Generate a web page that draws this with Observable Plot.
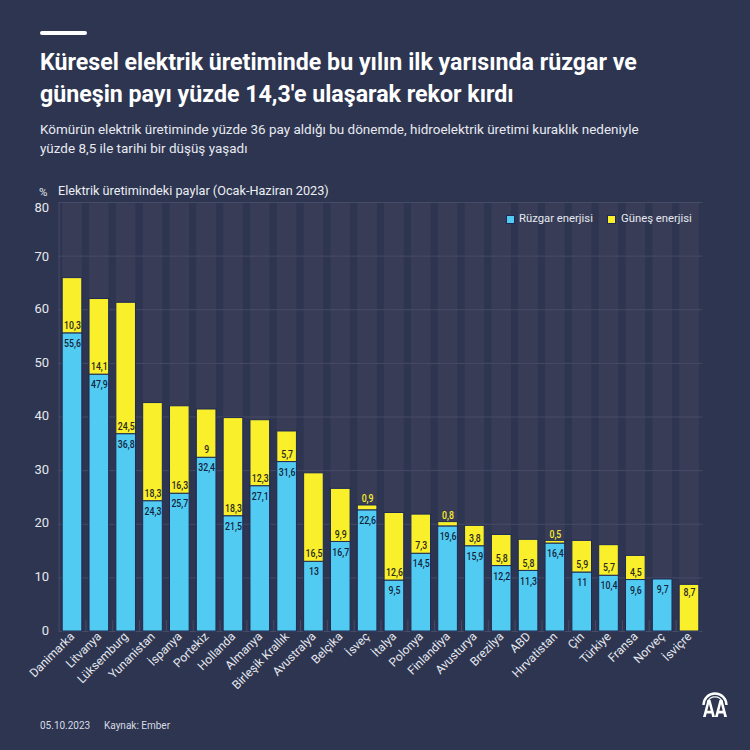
<!DOCTYPE html>
<html lang="tr">
<head>
<meta charset="utf-8">
<script src="https://cdn.jsdelivr.net/npm/d3@7"></script>
<script src="https://cdn.jsdelivr.net/npm/@observablehq/plot@0.6"></script>
<style>
html,body{margin:0;padding:0;background:#2d3550;width:750px;height:750px;overflow:hidden;font-family:Roboto,sans-serif;color:#fff}
#page{position:relative;width:750px;height:750px}
.abs{position:absolute;white-space:nowrap}
#rule{left:40px;top:30.5px;width:47px;height:4px;border-radius:2px;background:#fff}
#title{left:40px;top:47px;font-size:23.2px;font-weight:700;line-height:31.5px;color:#fff}
#subtitle{left:40px;top:121px;font-size:13.47px;line-height:18.5px;color:#e8eaf0}
#chart{left:0;top:190px}
#chart svg{display:block;background:transparent}
.lg{font-size:11.3px;color:#e6e8ef;line-height:14px}
.sw{width:7px;height:7px;border:1px solid #1e2a55}
.foot{font-size:10px;color:#d8dbe4;top:720px;line-height:12px}
</style>
</head>
<body>
<div id="page">
  <div class="abs" id="rule"></div>
  <div class="abs" id="title">Küresel elektrik üretiminde bu yılın ilk yarısında rüzgar ve<br>güneşin payı yüzde 14,3'e ulaşarak rekor kırdı</div>
  <div class="abs" id="subtitle">Kömürün elektrik üretiminde yüzde 36 pay aldığı bu dönemde, hidroelektrik üretimi kuraklık nedeniyle<br>yüzde 8,5 ile tarihi bir düşüş yaşadı</div>
  <div class="abs" id="chart"></div>
  <div class="abs" style="left:39px;top:185px;font-size:11.5px;line-height:14px;color:#e6e8ef">%</div>
  <div class="abs" style="left:58px;top:183px;font-size:12.7px;line-height:15px;color:#eceef3">Elektrik üretimindeki paylar (Ocak-Haziran 2023)</div>
  <div class="abs sw" style="left:506px;top:215px;background:#52cbf2"></div>
  <div class="abs lg" style="left:519px;top:212px">Rüzgar enerjisi</div>
  <div class="abs sw" style="left:607px;top:215px;background:#f9ef2a"></div>
  <div class="abs lg" style="left:621px;top:212px">Güneş enerjisi</div>
  <div class="abs foot" style="left:40px">05.10.2023</div>
  <div class="abs foot" style="left:104px">Kaynak: Ember</div>
  <svg class="abs" style="left:702px;top:692px" width="26" height="26" viewBox="0 0 26 26" aria-hidden="true">
    <path d="M1.5 13 A11.5 11.5 0 0 1 24.5 13" fill="none" stroke="#fff" stroke-width="2.4"/>
    <path d="M5.5 10 A8 8 0 0 1 20.5 10" fill="none" stroke="#fff" stroke-width="1.2"/>
    <path fill-rule="evenodd" fill="#fff" d="M1 25 L5.5 8 H8.5 L13 25 H10.2 L9.4 21.5 H4.6 L3.8 25 Z M5.3 18.8 H8.7 L7 12 Z"/>
    <path fill-rule="evenodd" fill="#fff" d="M13 25 L17.5 8 H20.5 L25 25 H22.2 L21.4 21.5 H16.6 L15.8 25 Z M17.3 18.8 H20.7 L19 12 Z"/>
  </svg>
</div>
<script>
const categories = ["Danimarka","Litvanya","Lüksemburg","Yunanistan","İspanya","Portekiz","Hollanda","Almanya","Birleşik Krallık","Avustralya","Belçika","İsveç","İtalya","Polonya","Finlandiya","Avusturya","Brezilya","ABD","Hırvatistan","Çin","Türkiye","Fransa","Norveç","İsviçre"];
const windShare = [55.6,47.9,36.8,24.3,25.7,32.4,21.5,27.1,31.6,13,16.7,22.6,9.5,14.5,19.6,15.9,12.2,11.3,16.4,11,10.4,9.6,9.7,0];
const solarShare = [10.3,14.1,24.5,18.3,16.3,9,18.3,12.3,5.7,16.5,9.9,0.9,12.6,7.3,0.8,3.8,5.8,5.8,0.5,5.9,5.7,4.5,0,8.7];
const yTicks = [0,10,20,30,40,50,60,70,80];

const rows = categories.map((name,i)=>({name,wind:windShare[i],solar:solarShare[i]}));
const fmt = v => String(v).replace(".",",");
const inset = {insetLeft:3.6,insetRight:3.6};
const labelStyle = {x:"name",textAnchor:"middle",fontSize:11.5,fontWeight:500,fontFamily:"Roboto, sans-serif",className:"vlabel"};
const dark = "#14233a";
const axisStyle = {tickSize:0,tickPadding:10,fontSize:13,color:"#e6e8ef",label:null};

const chart = Plot.plot({
  width:750,height:510,
  marginTop:12,marginBottom:69,marginLeft:58.6,marginRight:47.6,
  style:{background:"transparent",fontFamily:"Roboto, sans-serif"},
  x:{type:"band",domain:categories,padding:0,round:false,label:null},
  y:{domain:[0,80],label:null},
  marks:[
    Plot.barY(categories,{x:d=>d,y1:0,y2:80,fill:"#383c57",...inset}),
    Plot.gridY(yTicks,{stroke:"#464b67",strokeOpacity:1,strokeWidth:1}),
    Plot.ruleX(categories.slice(0,23),{x:d=>d,dx:13.4,y1:0,y2:2,stroke:"#474c68",strokeWidth:1}),
    Plot.ruleX(categories.slice(0,1),{x:d=>d,dx:-13.4,y1:0,y2:80,stroke:"#474c68",strokeWidth:1}),
    Plot.axisY({...axisStyle,ticks:[80],dy:5}),
    Plot.axisY({...axisStyle,ticks:[70],dy:1}),
    Plot.axisY({...axisStyle,ticks:[0,10,20,30,40,50,60],dy:-1}),
    Plot.axisX({tickSize:0,tickPadding:3,tickRotate:-45,fontSize:12,color:"#e6e8ef",label:null}),
    Plot.barY(rows.filter(d=>d.wind>0),{x:"name",y1:0,y2:"wind",fill:"#52cbf2",stroke:"#1e2a55",strokeWidth:1,...inset}),
    Plot.barY(rows.filter(d=>d.solar>0),{x:"name",y1:"wind",y2:d=>d.wind+d.solar,fill:"#f9ef2a",stroke:"#1e2a55",strokeWidth:1,...inset}),
    Plot.text(rows.filter(d=>d.wind>0),{...labelStyle,y:"wind",dy:10,text:d=>fmt(d.wind),fill:dark}),
    Plot.text(rows.filter(d=>d.solar>=1&&d.wind>0),{...labelStyle,y:"wind",dy:-8,text:d=>fmt(d.solar),fill:"#2b2a20"}),
    Plot.text(rows.filter(d=>d.solar>0&&d.solar<1),{...labelStyle,y:d=>d.wind+d.solar,dy:-7,text:d=>fmt(d.solar),fill:"#f9ef2a"}),
    Plot.text(rows.filter(d=>d.wind===0),{...labelStyle,y:"solar",dy:7,text:d=>fmt(d.solar),fill:"#2b2a20"})
  ]
});
document.getElementById("chart").appendChild(chart);
// The reference's value labels use a condensed face: narrow the glyphs of the real text.
chart.querySelectorAll(".vlabel text").forEach(t=>{
  const w = t.getComputedTextLength();
  t.setAttribute("textLength",(w*0.76).toFixed(2));
  t.setAttribute("lengthAdjust","spacingAndGlyphs");
});
</script>
</body>
</html>
